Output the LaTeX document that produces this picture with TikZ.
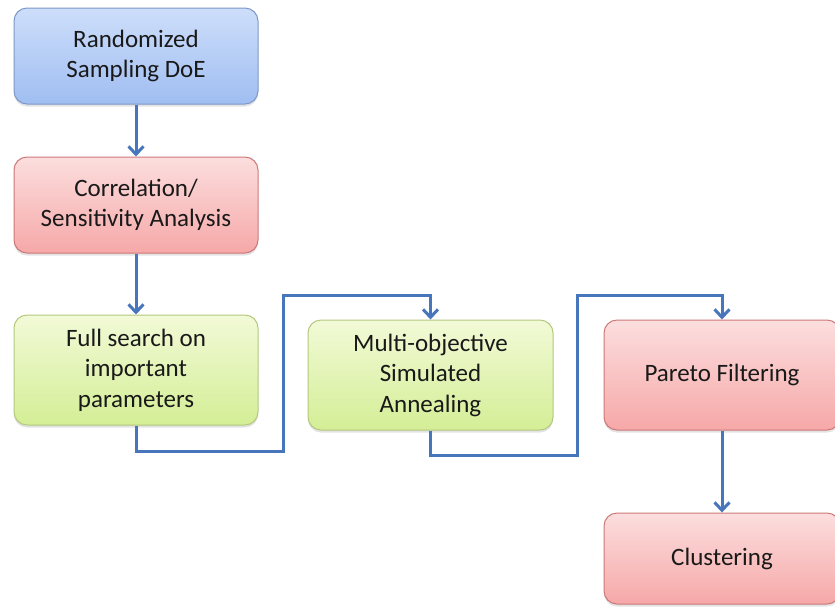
\documentclass[tikz,border=0pt]{standalone}
\usepackage{fontspec}
\setmainfont{Carlito}
\usetikzlibrary{arrows.meta,shadows}
\definecolor{bluetop}{RGB}{205,222,250}
\definecolor{bluebot}{RGB}{160,190,242}
\definecolor{blueedge}{RGB}{125,152,200}
\definecolor{redtop}{RGB}{252,222,222}
\definecolor{redbot}{RGB}{246,168,168}
\definecolor{rededge}{RGB}{205,120,120}
\definecolor{greentop}{RGB}{242,250,215}
\definecolor{greenbot}{RGB}{212,238,150}
\definecolor{greenedge}{RGB}{180,200,125}
\definecolor{linkblue}{RGB}{72,118,188}
\definecolor{txt}{RGB}{25,25,25}
\tikzset{
  procbox/.style={rounded corners=13pt, line width=1pt, align=center,
    inner sep=0pt, text=txt,
    font=\fontsize{25}{30.5}\selectfont,
    drop shadow={shadow xshift=0pt, shadow yshift=-2.5pt, opacity=0.22}},
  bluebox/.style={procbox, draw=blueedge, top color=bluetop, bottom color=bluebot},
  redbox/.style={procbox, draw=rededge, top color=redtop, bottom color=redbot},
  greenbox/.style={procbox, draw=greenedge, top color=greentop, bottom color=greenbot},
  link/.style={draw=linkblue, line width=3pt,
    -{Straight Barb[length=8pt,width=15pt,line width=3pt]}},
}
\begin{document}
\begin{tikzpicture}[x=1pt,y=-1pt]
\useasboundingbox[fill=white] (0,0) rectangle (835,606);
\node[bluebox, minimum width=244pt, minimum height=96pt] (a) at (136,56)
  {Randomized\\Sampling DoE};
\node[redbox, minimum width=244pt, minimum height=96pt] (b) at (136,205)
  {Correlation/\\Sensitivity Analysis};
\node[greenbox, minimum width=244pt, minimum height=110pt] (c) at (136,370)
  {Full search on\\important\\parameters};
\node[greenbox, minimum width=245pt, minimum height=110pt] (d) at (430.5,375)
  {Multi-objective\\Simulated\\Annealing};
\node[redbox, minimum width=236pt, minimum height=110pt] (e) at (722,375)
  {Pareto Filtering};
\node[redbox, minimum width=236pt, minimum height=91pt] (f) at (722,558.5)
  {Clustering};
\coordinate (p1) at (283,451);
\coordinate (p2) at (283,295);
\coordinate (q1) at (577,455);
\coordinate (q2) at (577,295);
\draw[link] (a.south) -- (b.north);
\draw[link] (b.south) -- (c.north);
\draw[link] (c.south) |- (p1) -- (p2) -| (d.north);
\draw[link] (d.south) |- (q1) -- (q2) -| (e.north);
\draw[link] (e.south) -- (f.north);
\end{tikzpicture}
\end{document}
